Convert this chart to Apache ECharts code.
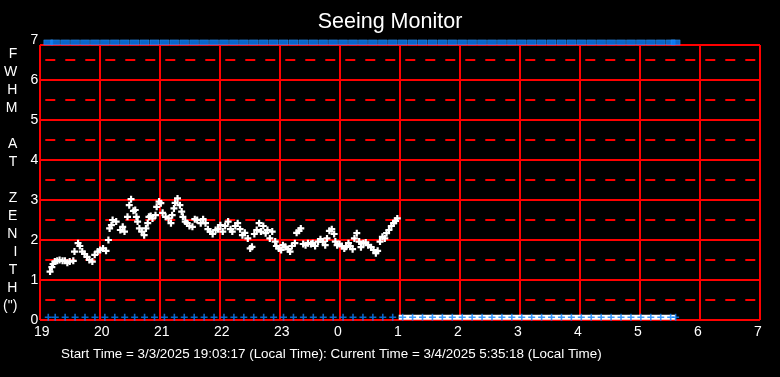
<!DOCTYPE html>
<html>
<head>
<meta charset="utf-8">
<title>Seeing Monitor</title>
<script src="https://cdn.jsdelivr.net/npm/echarts@6/dist/echarts.min.js"></script>
<style>
  html, body { margin: 0; padding: 0; background: #000; }
  #chart { width: 780px; height: 377px; }
</style>
</head>
<body>
<div id="chart"></div>
<script>
// seeing samples: hour of night (after midnight = 24+) and FWHM at zenith (")
const seeingHours = [
  19.08, 19.11, 19.13, 19.16, 19.20, 19.24, 19.29, 19.33, 19.37, 19.41, 19.47, 19.49,
  19.55, 19.58, 19.62, 19.66, 19.70, 19.74, 19.79, 19.83, 19.88, 19.92, 19.97, 20.02,
  20.06, 20.08, 20.11, 20.13, 20.19, 20.26, 20.30, 20.33, 20.38, 20.41, 20.44, 20.48,
  20.51, 20.53, 20.55, 20.58, 20.62, 20.66, 20.69, 20.72, 20.74, 20.77, 20.80, 20.85,
  20.87, 20.91, 20.94, 20.97, 21.02, 21.07, 21.11, 21.13, 21.16, 21.18, 21.22, 21.26,
  21.29, 21.31, 21.35, 21.38, 21.42, 21.47, 21.51, 21.55, 21.61, 21.65, 21.69, 21.73,
  21.77, 21.81, 21.86, 21.90, 21.94, 21.98, 22.02, 22.07, 22.11, 22.14, 22.19, 22.23,
  22.27, 22.31, 22.35, 22.40, 22.44, 22.47, 22.51, 22.55, 22.59, 22.62, 22.66, 22.70,
  22.73, 22.77, 22.81, 22.86, 22.88, 22.92, 22.96, 22.99, 23.03, 23.08, 23.11, 23.14,
  23.19, 23.22, 23.26, 23.29, 23.33, 23.37, 23.41, 23.46, 23.49, 23.53, 23.58, 23.62,
  23.66, 23.70, 23.73, 23.77, 23.81, 23.85, 23.87, 23.90, 23.94, 23.98, 24.02, 24.05,
  24.09, 24.12, 24.16, 24.19, 24.23, 24.27, 24.30, 24.34, 24.38, 24.42, 24.47, 24.51,
  24.55, 24.58, 24.62, 24.66, 24.70, 24.73, 24.77, 24.81, 24.85, 24.88, 24.91
];
const seeingFwhm = [
  1.21, 1.32, 1.40, 1.46, 1.48, 1.50, 1.48, 1.48, 1.43, 1.46, 1.48, 1.71,
  1.92, 1.85, 1.71, 1.65, 1.58, 1.50, 1.46, 1.63, 1.71, 1.75, 1.79, 1.73,
  2.00, 2.29, 2.37, 2.50, 2.46, 2.25, 2.33, 2.21, 2.58, 2.87, 3.02, 2.73,
  2.75, 2.58, 2.46, 2.29, 2.21, 2.12, 2.29, 2.42, 2.58, 2.60, 2.54, 2.62,
  2.83, 2.96, 2.92, 2.68, 2.58, 2.54, 2.42, 2.62, 2.79, 2.93, 3.04, 2.87,
  2.71, 2.58, 2.46, 2.42, 2.35, 2.33, 2.52, 2.50, 2.42, 2.52, 2.42, 2.27,
  2.21, 2.15, 2.25, 2.27, 2.37, 2.21, 2.35, 2.46, 2.27, 2.21, 2.35, 2.42,
  2.27, 2.12, 2.18, 2.04, 1.79, 1.83, 2.15, 2.25, 2.42, 2.21, 2.35, 2.17,
  2.25, 2.04, 2.21, 1.96, 1.85, 1.79, 1.75, 1.87, 1.83, 1.77, 1.71, 1.85,
  1.92, 2.18, 2.23, 2.29, 1.90, 1.87, 1.92, 1.90, 1.92, 1.85, 1.96, 2.02,
  1.96, 1.87, 2.04, 2.23, 2.27, 2.15, 1.96, 1.87, 1.90, 1.85, 1.79, 1.83,
  1.92, 1.85, 1.77, 2.04, 2.17, 1.96, 1.82, 1.92, 1.94, 1.87, 1.82, 1.75,
  1.67, 1.73, 1.96, 2.08, 2.04, 2.17, 2.25, 2.35, 2.42, 2.48, 2.54
];

// status check times (local clock)
const statusTimes = [
  '19:03', '19:10', '19:20', '19:30', '19:40', '19:50',
  '20:00', '20:10', '20:20', '20:30', '20:40', '20:50',
  '21:00', '21:10', '21:20', '21:30', '21:40', '21:50',
  '22:00', '22:10', '22:20', '22:30', '22:40', '22:50',
  '23:00', '23:10', '23:20', '23:30', '23:40', '23:50',
  '00:00', '00:10', '00:20', '00:30', '00:40', '00:50',
  '01:00', '01:10', '01:20', '01:30', '01:40', '01:50',
  '02:00', '02:10', '02:20', '02:30', '02:40', '02:50',
  '03:00', '03:10', '03:20', '03:30', '03:40', '03:50',
  '04:00', '04:10', '04:20', '04:30', '04:40', '04:50',
  '05:00', '05:10', '05:20', '05:30', '05:35'
];
// period with no valid measurement (drawn as a white band at the bottom)
const noDataPeriod = ['00:56', '05:35'];
const topLevel = 6.94;
const bottomLevel = 0.07;

const xTicks = { min: 19, max: 31 };
const yTicks = { min: 0, max: 7 };
const yTitle = ['F', 'W', 'H', 'M', '', 'A', 'T', '', 'Z', 'E', 'N', 'I', 'T', 'H', '(")'];
const footer = 'Start Time = 3/3/2025 19:03:17 (Local Time): Current Time = 3/4/2025 5:35:18 (Local Time)';

const toHour = (s) => {
  const [h, m] = s.split(':').map(Number);
  return (h < 12 ? h + 24 : h) + m / 60;
};

const FONT = 'Liberation Sans';
const RED = '#ff0000';
const BLUE = '#0a80ff';
const plusThin = 'path://M0,2.7H7V4.3H0Z M2.7,0H4.3V7H2.7Z';
const plusThick = 'path://M0,2.4H7V4.6H0Z M2.4,0H4.6V7H2.4Z';

const chart = echarts.init(document.getElementById('chart'));

const option = {
  backgroundColor: '#000',
  animation: false,
  title: [
    {
      text: 'Seeing Monitor',
      left: 'center',
      top: 6,
      textStyle: { color: '#fff', fontSize: 21.5, fontWeight: 'normal', fontFamily: FONT },
    },
    {
      text: footer,
      left: 61,
      top: 348,
      padding: 0,
      textStyle: { color: '#fff', fontSize: 13.4, fontWeight: 'normal', fontFamily: FONT },
    },
  ],
  grid: [
    { left: 40, right: 20, top: 45, bottom: 57 },
    { left: 40, right: 20, top: 40, bottom: 57 },
  ],
  xAxis: [
    {
      type: 'value',
      gridIndex: 0,
      min: xTicks.min,
      max: xTicks.max,
      interval: 1,
      axisLine: { show: false },
      axisTick: { show: false },
      splitLine: { show: true, lineStyle: { color: RED, width: 2 } },
      axisLabel: {
        color: '#fff',
        fontSize: 14,
        fontFamily: FONT,
        margin: 5,
        align: 'left',
        padding: [0, 0, 0, -6],
        formatter: (v) => String(v % 24),
      },
    },
    {
      type: 'value',
      gridIndex: 1,
      min: xTicks.min,
      max: xTicks.max,
      show: false,
    },
  ],
  yAxis: [
    {
      type: 'value',
      gridIndex: 0,
      min: yTicks.min,
      max: 6.875,
      interval: 1,
      axisLine: { show: false },
      axisTick: { show: false },
      axisLabel: { show: false },
      splitLine: { show: true, lineStyle: { color: RED, width: 2 } },
    },
    {
      type: 'value',
      gridIndex: 1,
      min: yTicks.min,
      max: yTicks.max,
      interval: 1,
      axisLine: { show: false },
      axisTick: { show: false },
      splitLine: { show: false },
      minorTick: { show: false, splitNumber: 2 },
      minorSplitLine: { show: true, lineStyle: { color: RED, width: 2, type: [10, 10] } },
      axisLabel: { color: '#fff', fontSize: 14, fontFamily: FONT, margin: 7 },
      name: yTitle.join('\n'),
      nameLocation: 'middle',
      nameRotate: 0,
      nameGap: 28,
      nameTextStyle: { color: '#fff', fontSize: 14, fontFamily: FONT, lineHeight: 18 },
    },
  ],
  series: [
    {
      name: 'no data',
      type: 'line',
      xAxisIndex: 1,
      yAxisIndex: 1,
      data: noDataPeriod.map((t) => [toHour(t), bottomLevel]),
      symbol: 'none',
      lineStyle: { color: '#fff', width: 5 },
      silent: true,
      z: 3,
    },
    {
      name: 'status bottom',
      type: 'scatter',
      xAxisIndex: 1,
      yAxisIndex: 1,
      data: statusTimes.map((t) => [toHour(t), bottomLevel]),
      symbol: plusThin,
      symbolSize: 7,
      itemStyle: { color: BLUE },
      silent: true,
      z: 4,
    },
    {
      name: 'status top',
      type: 'scatter',
      xAxisIndex: 1,
      yAxisIndex: 1,
      data: statusTimes.map((t) => [toHour(t), topLevel]),
      symbol: 'rect',
      symbolSize: [9, 5],
      itemStyle: { color: BLUE, borderColor: '#3a9cff', borderWidth: 0.5 },
      silent: true,
      z: 4,
    },
    {
      name: 'FWHM',
      type: 'scatter',
      xAxisIndex: 1,
      yAxisIndex: 1,
      data: seeingHours.map((h, i) => [h, seeingFwhm[i]]),
      symbol: plusThick,
      symbolSize: 7,
      itemStyle: { color: '#fff', opacity: 1 },
      silent: true,
      z: 5,
    },
  ],
};

chart.setOption(option);
</script>
</body>
</html>
